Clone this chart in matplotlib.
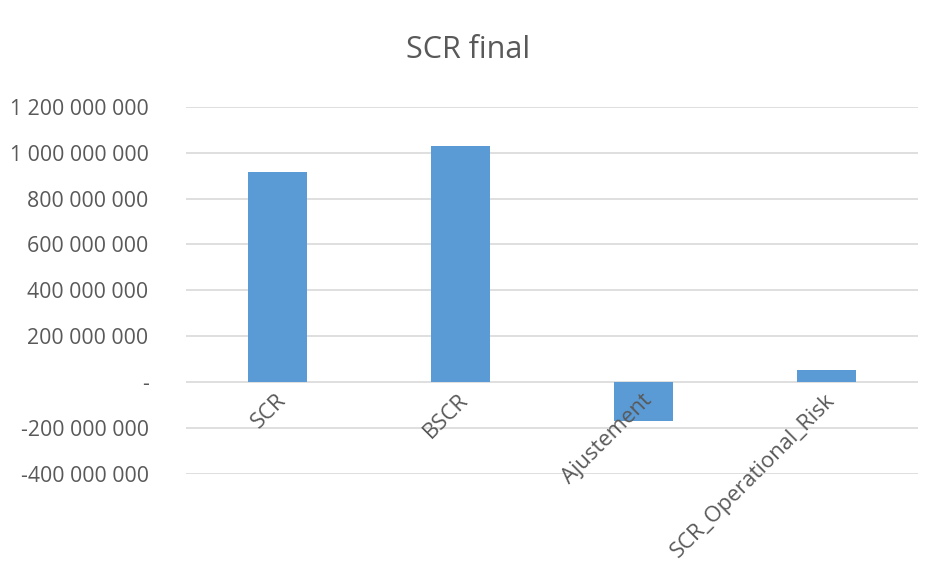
import matplotlib
matplotlib.use("Agg")
import matplotlib.pyplot as plt
from matplotlib.ticker import FuncFormatter, MultipleLocator
from matplotlib.transforms import offset_copy

plt.rcParams['font.family'] = ['Open Sans', 'DejaVu Sans']

categories = ["SCR", "BSCR", "Ajustement", "SCR_Operational_Risk"]
values = [914e6, 1029e6, -169e6, 53e6]

grey = "#595959"
bar_colour = "#5b9bd5"

fig = plt.figure(figsize=(9.33, 5.79), dpi=100)
ax = fig.add_axes([0.1994, 0.1813, 0.7846, 0.6344])

x = range(len(categories))
ax.bar(x, values, width=0.32, color=bar_colour, zorder=3)

ax.set_xlim(-0.5, len(categories) - 0.5)
ax.set_ylim(-400e6, 1200e6)
ax.yaxis.set_major_locator(MultipleLocator(200e6))


def fmt(v, pos):
    if abs(v) < 1:
        return "-"
    s = f"{abs(v):,.0f}".replace(",", " ")
    return ("-" if v < 0 else "") + s


ax.yaxis.set_major_formatter(FuncFormatter(fmt))
ax.tick_params(axis="y", length=0, pad=27, labelsize=15.3, labelcolor=grey)
ax.set_xticks([])
ax.grid(axis="y", color="#d9d9d9", linewidth=1.2, zorder=0)
for s in ax.spines.values():
    s.set_visible(False)

# category labels sit along the zero line, rotated like the spreadsheet axis
lab_tr = offset_copy(ax.transData, fig=fig, x=5, y=-15, units="dots")
for i, c in enumerate(categories):
    ax.text(i, 0, c, transform=lab_tr, rotation=45, rotation_mode="anchor",
            ha="right", va="center", fontsize=15.8, color=grey, zorder=4)

fig.text(0.502, 1 - 50 / 579, "SCR final", ha="center", va="center",
         fontsize=22, color=grey)

fig.savefig("out.png", dpi=100)
